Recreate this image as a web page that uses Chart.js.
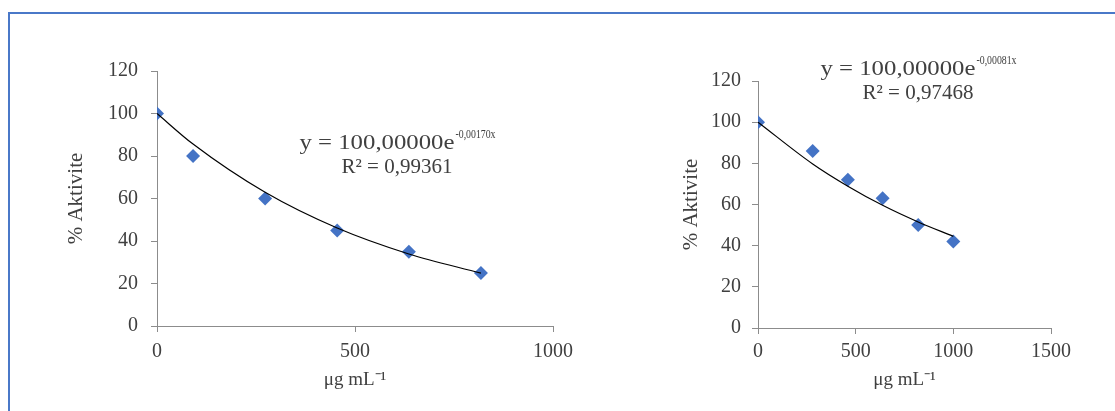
<!DOCTYPE html>
<html>
<head>
<meta charset="utf-8">
<script src="https://cdn.jsdelivr.net/npm/chart.js@4/dist/chart.umd.min.js"></script>
<style>
    body { margin: 0; background: #fff; width: 1115px; height: 411px; overflow: hidden; position: relative; }
    .frame { position: absolute; left: 8px; top: 12px; width: 1200px; height: 500px;
             border-left: 2px solid #4a78c8; border-top: 2px solid #4a78c8; }
    .box { position: absolute; top: 20px; height: 380px; }
    #box-left { left: 10px; width: 600px; }
    #box-right { left: 640px; width: 470px; }
</style>
</head>
<body>
<div class="frame"></div>
<div class="box" id="box-left"><canvas id="chart-left"></canvas></div>
<div class="box" id="box-right"><canvas id="chart-right"></canvas></div>
<script>
// Left chart data
const leftDoses = [0, 91, 273, 455, 636, 818];
const leftActivity = [100, 80, 60, 45, 35, 25];
const leftTrend = [100, 85.6, 62.9, 46.1, 33.9, 24.9];

// Right chart data
const rightDoses = [0, 280, 460, 638, 820, 1000];
const rightActivity = [100, 86, 72, 63, 50, 42];
const rightTrend = [100, 79.7, 68.9, 59.6, 51.5, 44.5];

const yTicks = [0, 20, 40, 60, 80, 100, 120];
const yTitle = "% Aktivite";
const xTitle = "μg mL⁻¹";

const FONT = "'Liberation Serif', 'Times New Roman', serif";
const TEXT = "#404040";
const AXIS = "#8c8c8c";
const BLUE = "#4473c5";

// Draw text squeezed or stretched to a given width
function fitText(ctx, text, x, y, width) {
    const w = ctx.measureText(text).width;
    ctx.save();
    ctx.translate(x, y);
    ctx.scale(width / w, 1);
    ctx.fillText(text, 0, 0);
    ctx.restore();
}

// Draws the trendline equation with a superscript exponent
const equationPlugin = {
    id: "equation",
    afterDraw(chart, args, opts) {
        const ctx = chart.ctx;
        ctx.save();
        ctx.fillStyle = TEXT;
        ctx.textBaseline = "alphabetic";
        ctx.textAlign = "left";
        const mainW = 155, supW = 40;
        let x = opts.cx - (mainW + supW) / 2;
        ctx.font = "22px " + FONT;
        fitText(ctx, opts.main, x, opts.y, mainW);
        ctx.font = "13px " + FONT;
        fitText(ctx, opts.sup, x + mainW + 1, opts.y - 11, supW);
        ctx.font = "21px " + FONT;
        ctx.textAlign = "center";
        ctx.fillText(opts.r2, opts.cx, opts.y + 24);
        ctx.restore();
    }
};

function toPoints(xs, ys) {
    return xs.map((x, i) => ({ x: x, y: ys[i] }));
}

function makeChart(id, doses, activity, trend, cfg) {
    const ctx = document.getElementById(id).getContext("2d");
    return new Chart(ctx, {
        type: "scatter",
        data: {
            datasets: [{
                label: "Aktivite",
                data: toPoints(doses, activity),
                pointStyle: "rectRot",
                pointRadius: 7,
                pointHoverRadius: 7,
                backgroundColor: BLUE,
                borderColor: BLUE,
                borderWidth: 0,
                order: 2,
            }, {
                label: "Trend",
                data: toPoints(doses, trend),
                showLine: true,
                pointRadius: 0,
                borderColor: "#000",
                borderWidth: 1.2,
                cubicInterpolationMode: "monotone",
                order: 1,
            }]
        },
        options: {
            responsive: true,
            maintainAspectRatio: false,
            animation: false,
            layout: { padding: { left: 0, right: cfg.padRight, top: cfg.padTop, bottom: 0 } },
            plugins: {
                legend: { display: false },
                tooltip: { enabled: false },
                equation: cfg.equation,
            },
            scales: {
                x: {
                    type: "linear",
                    min: 0,
                    max: cfg.xMax,
                    afterFit: (scale) => { scale.height = cfg.xHeight; },
                    afterBuildTicks: (scale) => { scale.ticks = cfg.xTicks.map(v => ({ value: v })); },
                    grid: { display: true, drawOnChartArea: false, drawTicks: true, tickLength: 6, color: AXIS },
                    border: { display: true, color: AXIS, width: 1 },
                    ticks: {
                        color: TEXT, padding: cfg.xPad, font: { family: FONT, size: 20 },
                        callback: (v) => String(v),
                    },
                    title: {
                        display: true, text: xTitle, color: TEXT,
                        font: { family: FONT, size: 19 }, padding: { top: 0, bottom: 9 }
                    },
                },
                y: {
                    min: 0,
                    max: 120,
                    afterFit: (scale) => { scale.width = cfg.yWidth; },
                    afterBuildTicks: (scale) => { scale.ticks = yTicks.map(v => ({ value: v })); },
                    grid: { display: true, drawOnChartArea: false, drawTicks: true, tickLength: 6, color: AXIS },
                    border: { display: true, color: AXIS, width: 1 },
                    ticks: {
                        color: TEXT, padding: cfg.yPad, font: { family: FONT, size: 20 },
                        callback: (v) => String(v),
                    },
                    title: {
                        display: true, text: yTitle, color: TEXT,
                        font: { family: FONT, size: 21 }, padding: { top: cfg.yTitleOffset, bottom: 0 }
                    },
                },
            },
        },
        plugins: [equationPlugin],
    });
}

document.addEventListener("DOMContentLoaded", () => {
    makeChart("chart-left", leftDoses, leftActivity, leftTrend, {
        xMax: 1000, xTicks: [0, 500, 1000],
        padRight: 57, padTop: 51, xHeight: 74, yWidth: 147,
        xPad: 8, yPad: 13, yTitleOffset: 54,
        equation: { main: "y = 100,00000e", sup: "-0,00170x", r2: "R² = 0,99361", cx: 387, y: 129 },
    });
    makeChart("chart-right", rightDoses, rightActivity, rightTrend, {
        xMax: 1500, xTicks: [0, 500, 1000, 1500],
        padRight: 59, padTop: 61, xHeight: 72, yWidth: 118,
        xPad: 6, yPad: 11, yTitleOffset: 39,
        equation: { main: "y = 100,00000e", sup: "-0,00081x", r2: "R² = 0,97468", cx: 278, y: 55 },
    });
});
</script>
</body>
</html>
